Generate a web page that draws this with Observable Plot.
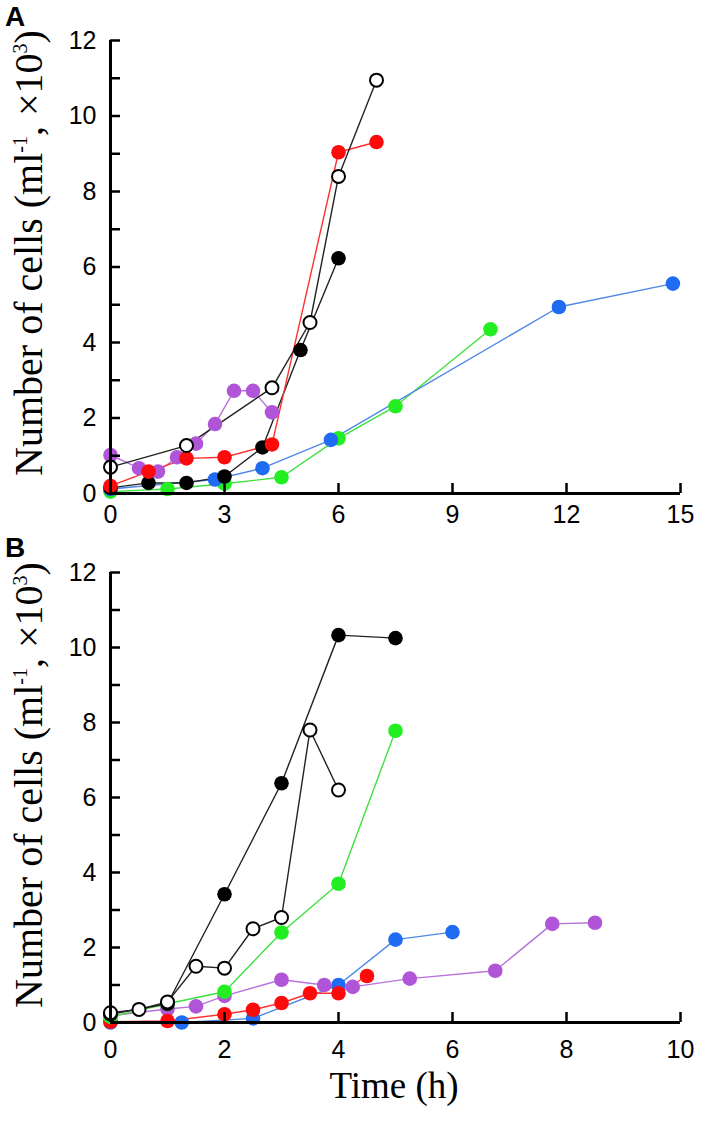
<!DOCTYPE html>
<html><head><meta charset="utf-8">
<script src="https://cdn.jsdelivr.net/npm/d3@7"></script>
<script src="https://cdn.jsdelivr.net/npm/@observablehq/plot@0.6"></script>
<style>
body{margin:0;background:#fff;}
#wrap{position:relative;width:702px;height:1134px;overflow:hidden;background:#fff}
.panel{position:absolute;left:0}
.lab{position:absolute;font-family:"Liberation Sans",Arial,sans-serif;font-weight:bold;font-size:28px;line-height:32px;color:#000}
.ylab{position:absolute;font-family:"Liberation Serif","Times New Roman",serif;font-size:40px;line-height:46px;white-space:nowrap;transform:translate(-50%,-50%) rotate(-90deg);color:#000}
.ylab sup{font-size:0.5em;vertical-align:0.75em;line-height:0}
.xlab{position:absolute;font-family:"Liberation Serif","Times New Roman",serif;font-size:37px;line-height:40px;white-space:nowrap;transform:translate(-50%,-50%);color:#000}
</style></head>
<body>
<div id="wrap">
  <div id="pa" class="panel" style="top:0"></div>
  <div id="pb" class="panel" style="top:540px"></div>
  <div class="lab" style="left:5px;top:1px">A</div>
  <div class="lab" style="left:5px;top:532px">B</div>
  <div class="ylab" style="left:29px;top:253px">Number of cells (ml<sup>-1</sup>, ×10<sup>3</sup>)</div>
  <div class="ylab" style="left:29px;top:785px">Number of cells (ml<sup>-1</sup>, ×10<sup>3</sup>)</div>
  <div class="xlab" style="left:394px;top:1086px">Time (h)</div>
</div>
<script>
// ---- tick labels ----
const yTicks = [0, 2, 4, 6, 8, 10, 12];
const yMinor = [1, 3, 5, 7, 9, 11];
const xTicksA = [0, 3, 6, 9, 12, 15];
const xTicksB = [0, 2, 4, 6, 8, 10];

// ---- Panel A series: [time (h), cells (x10^3 /ml)] ----
const aGreen  = [[0,0.05],[1.5,0.12],[3,0.26],[4.5,0.43],[6,1.46],[7.5,2.31],[10,4.35]];
const aBlue   = [[0,0.12],[2.75,0.37],[4,0.67],[5.8,1.42],[11.8,4.94],[14.8,5.56]];
const aPurple = [[0,1.02],[0.75,0.67],[1.25,0.58],[1.75,0.96],[2.25,1.32],[2.75,1.84],[3.25,2.72],[3.75,2.72],[4.25,2.15]];
const aRed    = [[0,0.2],[1,0.58],[2,0.93],[3,0.96],[4.25,1.3],[6,9.04],[7,9.31]];
const aBlack  = [[0,0.15],[1,0.28],[2,0.28],[3,0.45],[4,1.22],[5,3.8],[6,6.23]];
const aOpen   = [[0,0.7],[2,1.27],[4.25,2.8],[5.25,4.53],[6,8.4],[7,10.95]];

// ---- Panel B series ----
const bPurple = [[0,0.18],[1,0.36],[1.5,0.43],[2,0.71],[3,1.14],[3.75,1.0],[4.25,0.95],[5.25,1.17],[6.75,1.38],[7.75,2.63],[8.5,2.66]];
const bRed    = [[0,0.02],[1,0.04],[2,0.22],[2.5,0.34],[3,0.52],[3.5,0.78],[4,0.78],[4.5,1.24]];
const bBlue   = [[0,0],[1.25,0],[2.5,0.11],[4,1.0],[5,2.21],[6,2.41]];
const bGreen  = [[0,0.15],[1,0.5],[2,0.82],[3,2.4],[4,3.7],[5,7.78]];
const bBlack  = [[0,0.22],[1,0.5],[2,3.42],[3,6.38],[4,10.33],[5,10.25]];
const bOpen   = [[0,0.26],[0.5,0.35],[1,0.55],[1.5,1.5],[2,1.45],[2.5,2.5],[3,2.8],[3.5,7.8],[4,6.2]];

const C = {
  green:  {line:"#3fe03f", fill:"#22ee22"},
  blue:   {line:"#4f88e6", fill:"#1f6cf2"},
  purple: {line:"#b773dc", fill:"#b055d8"},
  red:    {line:"#ff3030", fill:"#ff0a0a"},
  black:  {line:"#222222", fill:"#000000"}
};

const tickFont = {fontSize: 25, fontFamily: "Liberation Sans, Arial, sans-serif", fill: "#000"};

function seriesMarks(list) {
  const marks = [];
  for (const s of list) {
    marks.push(Plot.line(s.data, {x: d => d[0], y: d => d[1], stroke: s.line, strokeWidth: 1.4}));
  }
  for (const s of list) {
    if (s.open) {
      marks.push(Plot.dot(s.data, {x: d => d[0], y: d => d[1], r: 6.5, fill: "#fff", stroke: "#000", strokeWidth: 2}));
    } else {
      marks.push(Plot.dot(s.data, {x: d => d[0], y: d => d[1], r: 7.3, fill: s.fill, stroke: "none"}));
    }
  }
  return marks;
}

function panel({xTicks, height, marginTop, marginBottom, xPad, series}) {
  const xMax = xTicks[xTicks.length - 1];
  const yMax = yTicks[yTicks.length - 1];
  return Plot.plot({
    width: 702, height, marginTop, marginBottom, marginLeft: 110, marginRight: 22,
    x: {domain: [xTicks[0], xMax]},
    y: {domain: [yTicks[0], yMax]},
    style: {background: "#fff", overflow: "visible"},
    marks: [
      ...seriesMarks(series),
      Plot.ruleX([xTicks[0]], {y1: yTicks[0], y2: yMax, strokeWidth: 3, stroke: "#000"}),
      Plot.ruleY([yTicks[0]], {x1: xTicks[0], x2: xMax, strokeWidth: 3, stroke: "#000"}),
      Plot.axisY(yTicks, {tickSize: -10, strokeWidth: 2.5, tickFormat: () => "", label: null}),
      Plot.axisY(yMinor, {tickSize: -10, strokeWidth: 2.5, tickFormat: () => "", label: null}),
      Plot.axisY(yTicks, {tickSize: 0, tickPadding: 14, label: null, ...tickFont}),
      Plot.axisX(xTicks.slice(1), {tickSize: -10, strokeWidth: 2.5, tickFormat: () => "", label: null}),
      Plot.axisX(xTicks, {tickSize: 0, tickPadding: xPad, label: null, ...tickFont})
    ]
  });
}

document.getElementById("pa").append(panel({
  xTicks: xTicksA, height: 540, marginTop: 40, marginBottom: 47, xPad: 12,
  series: [
    {data: aGreen, ...C.green}, {data: aBlue, ...C.blue}, {data: aPurple, ...C.purple},
    {data: aBlack, ...C.black}, {data: aRed, ...C.red}, {data: aOpen, ...C.black, open: true}
  ]
}));

document.getElementById("pb").append(panel({
  xTicks: xTicksB, height: 594, marginTop: 32, marginBottom: 112, xPad: 18,
  series: [
    {data: bBlue, ...C.blue}, {data: bPurple, ...C.purple}, {data: bRed, ...C.red},
    {data: bGreen, ...C.green}, {data: bBlack, ...C.black}, {data: bOpen, ...C.black, open: true}
  ]
}));
</script>
</body></html>
